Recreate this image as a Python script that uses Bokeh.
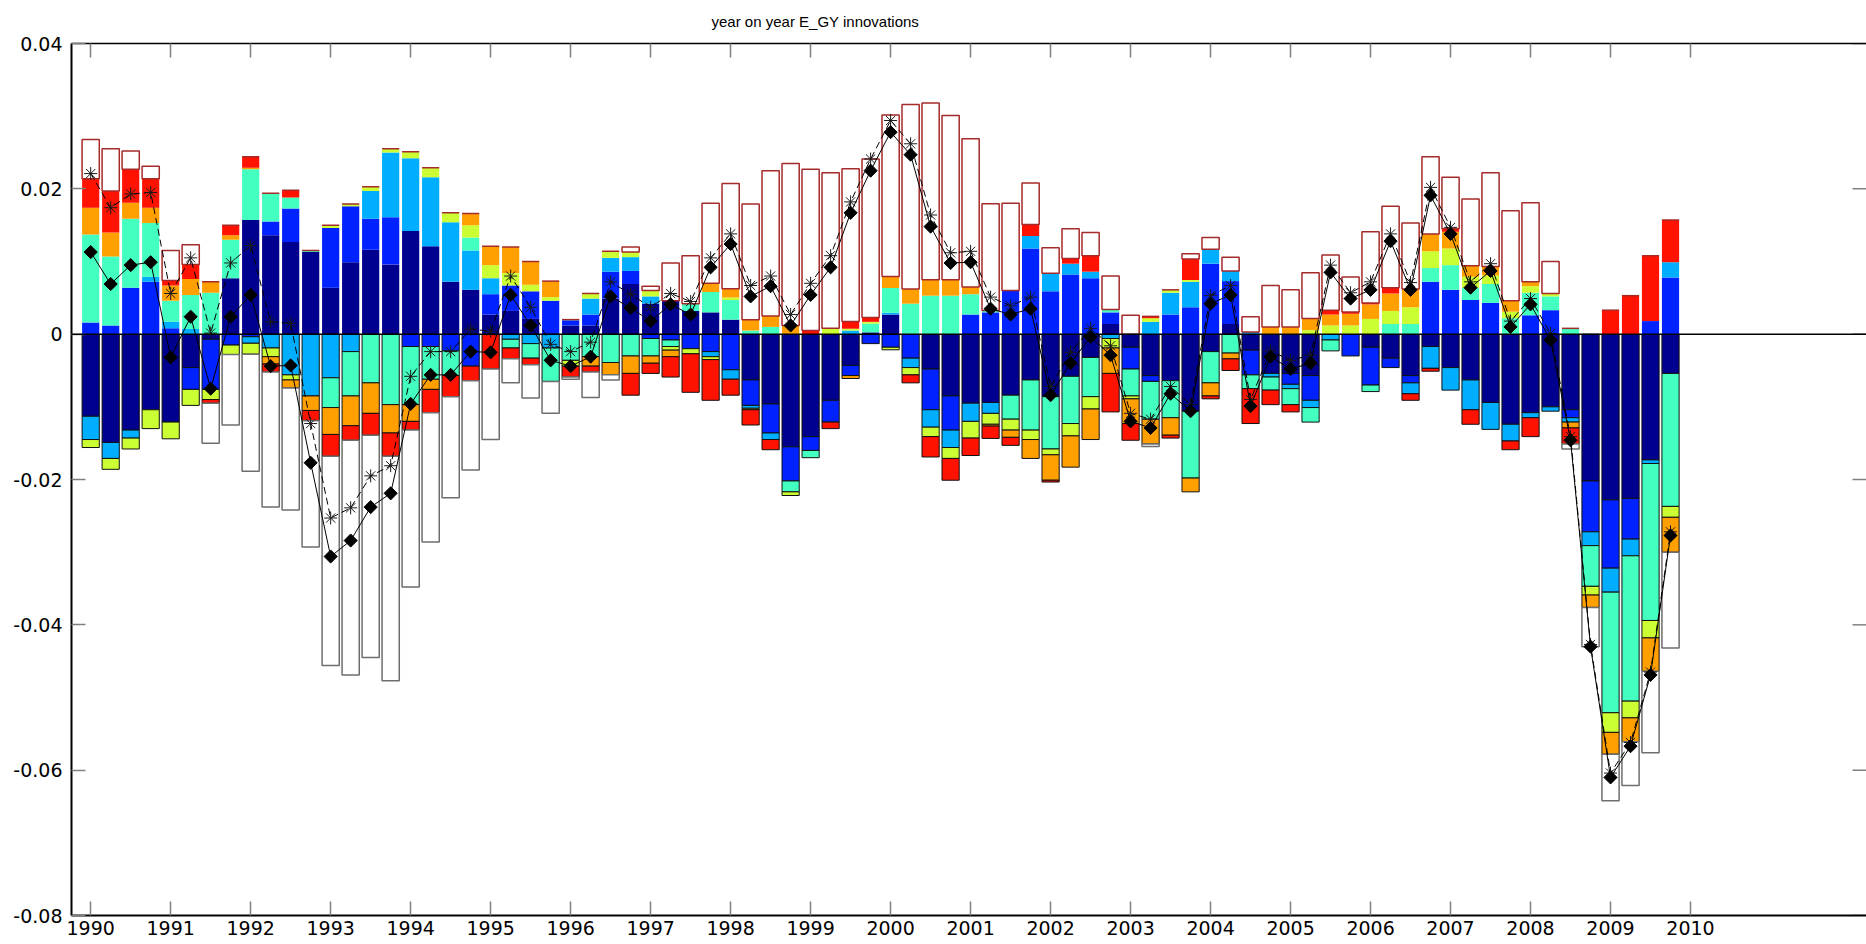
import numpy as np
from bokeh.plotting import figure
from bokeh.models import (Range1d, FixedTicker, CustomJSTickFormatter, LinearAxis,
                          Span, ColumnDataSource)
from bokeh.embed import file_html
from bokeh.resources import INLINE

# ---------------- data (contributions, in units of 1e-3) ----------------
UNIT = 1e-3
first_year = 1990
quarters = [f"{y}Q{q}" for y in range(1990, 2010) for q in range(1, 5)]
x_tick_years = list(range(1990, 2011))
y_ticks = [-0.08, -0.06, -0.04, -0.02, 0.0, 0.02, 0.04]

shock_navy = [-11.3, -14.9, -13.2, -10.4, -12.1, -4.6, -0.7, 7.7, 15.7, 13.6,
              12.7, 11.3, 6.4, 9.9, 11.6, 9.6, 14.2, 12.1, 7.2, 6.1,
              2.7, 3.2, 2.1, 0, 1.2, 1.2, 4.9, 6.9, 4.2, 4.6,
              3.2, 3.0, 2.0, -6.3, -9.6, -15.5, -14.1, -9.1, -4.3, 0.25,
              2.7, 0, -4.8, -8.5, -9.5, -9.4, -8.4, -6.3, -8.6, -5.8,
              -3.2, 1.4, -1.8, -5.7, -6.4, -10.6, -2.4, 1.4, -2.2, -5.4,
              -5.4, -5.7, 0, 0, -1.8, -3.3, -5.7, -1.7, -4.6, -6.3,
              -9.4, -12.4, -10.8, -10.0, -10.4, -20.2, -22.8, -22.6, -17.3, -5.4]

shock_blue = [1.6, 1.2, 6.4, 7.2, 0.8, -3.0, -6.9, -1.5, -0.35, 1.9,
              4.6, 0, 8.2, 7.7, 4.3, 6.5, -1.7, -1.7, -2.3, -4.4,
              2.8, 3.5, 3.8, 4.6, 0.7, 1.5, 3.7, 1.8, -0.6, -0.8,
              -2.0, -2.4, -4.9, -3.5, -4.0, -4.7, -1.9, -3.0, -1.4, -1.3,
              -1.8, -3.3, -5.6, -4.7, 2.7, 3.0, 6.0, 11.8, 5.9, 8.2,
              7.7, 1.6, -3.0, -0.8, 2.7, 3.7, 9.7, 5.9, -3.4, 0,
              -1.5, -3.4, 0, -3.0, -5.2, -1.3, -1.0, 7.2, 6.1, 4.7,
              4.3, 0, 2.6, 3.3, -1.1, -7.0, -9.4, -5.6, 1.8, 7.8]

shock_lightblue = [-3.2, -2.2, -1.1, 0.7, 0.9, 0.7, 0, 0, -0.9, -1.9,
                   -5.6, -8.5, -6.0, -2.4, 3.8, 8.9, 10.0, 9.5, 8.2, 5.4,
                   2.2, -0.7, -1.3, -1.9, 0.1, 2.2, 1.9, 1.9, 1.0, 0,
                   0, -0.7, -1.3, -0.4, -0.9, 0, 0, 0, 0.5, 0,
                   0.25, -1.3, -2.4, -2.4, -2.5, -1.5, 0, 1.7, 2.5, 1.5,
                   0.9, -0.6, 0, 1.7, 3.0, 3.5, 2.0, 1.4, 0.3, -0.5,
                   -0.6, -1.0, -0.8, 0, 0, 0, -1.5, -3.0, -3.1, -4.1,
                   -3.7, -2.3, -0.7, -0.6, -0.6, -1.9, -3.3, -2.3, -0.5, 2.1]

shock_aqua = [12.1, 9.5, 9.5, 7.4, 2.9, 4.7, 5.7, 5.3, 7.0, 3.9,
              1.5, 0.2, -4.1, -6.1, -6.7, -9.7, -8.0, -4.5, -3.4, 1.8,
              0, -1.2, -2.0, -4.6, -3.6, -3.1, -3.9, -3.0, -2.4, -0.9,
              1.0, 2.8, 2.7, 0.5, 1.0, -1.5, -1.0, 0, 0, 1.2,
              3.4, 4.2, 5.3, 5.3, 2.8, 0.25, -3.3, -6.9, -7.2, -6.5,
              -5.4, 0.4, -3.7, -5.2, -5.1, -9.2, -4.3, -2.6, -1.9, -1.8,
              -2.2, -2.0, -1.5, 0, -0.9, 1.4, 1.4, 1.9, 3.4, 1.7,
              2.6, 2.2, 3.1, 1.9, 0.8, -5.6, -16.6, -20.0, -21.6, -18.3]

shock_yellowgreen = [-1.1, -1.5, -1.5, -2.6, -2.3, -2.2, -1.4, -1.3, -1.5, -1.2,
                     -0.7, 0, 0.4, 0.3, 0.6, 0.5, 0.9, 1.3, 1.3, 1.7,
                     1.8, 1.7, 0.9, 0.5, -0.8, 0.7, 0.9, 0.7, 0.8, -0.5,
                     -0.7, -0.4, 0.35, -0.2, 0, -0.5, 0, 0.8, 0.25, 0.25,
                     -0.35, -1.0, -1.3, -1.5, -2.3, -1.5, -1.5, -1.3, -0.8, -1.7,
                     -1.7, -1.3, -0.4, 0.5, 0.4, 0.25, 0, 0, 0, 0,
                     0, 0.55, 1.2, 1.2, 2.1, 1.8, 2.3, 2.3, 2.3, 1.5,
                     1.2, 0.9, 0.9, 0.4, 0, -1.2, -2.7, -2.3, -2.4, -1.5]

shock_orange = [3.7, 3.3, 2.2, 2.1, 2.1, 2.2, 1.5, 0.6, 0.2, -1.0,
                -1.1, -2.0, -3.7, -4.1, -4.2, -3.9, -2.3, -1.4, 0, 1.6,
                2.6, 3.6, 3.2, 2.2, 0, -1.3, -1.7, -2.4, -1.0, -0.9,
                0, 1.2, 1.2, 1.5, 1.5, 1.2, 0, 0, -0.4, 0,
                1.6, 2.0, 2.2, 2.2, 1.0, -0.25, -1.0, -2.6, -3.5, -4.3,
                -4.2, -3.5, -3.4, -3.4, -2.4, -1.9, -1.8, -0.8, 0, 1.0,
                1.0, 1.6, 1.5, 1.6, 2.0, 2.4, 2.5, 2.4, 2.3, 1.5,
                1.2, 1.5, 0.6, 0, -0.8, -1.7, -3.0, -3.3, -4.6, -4.8]

shock_red = [4.0, 5.7, 4.6, 4.0, 0.7, 2.0, -0.5, 1.4, 1.5, -1.1,
             1.0, -1.4, -3.0, -2.0, -3.0, -3.2, -1.2, -3.2, -2.9, -2.0,
             -4.8, -1.5, -0.9, 0, -1.5, -0.8, 0, -3.0, -1.4, -2.8,
             -5.3, -5.6, -2.2, -2.1, -1.4, 0, 0.5, -0.9, 1.0, 0.6,
             0, -1.1, -2.8, -3.0, -2.4, -1.7, -1.1, 1.6, -0.25, 0.7,
             2.2, -5.3, -2.3, 0.25, -0.4, 2.9, -0.4, -1.6, -4.8, -2.0,
             -1.0, 0, 0.6, 0.25, 0.2, 0.8, -0.9, -0.4, 0.4, -2.0,
             0, -1.2, -2.6, 0, -2.2, 0, 3.3, 5.3, 9.0, 5.8]

initial_values = [5.4, 5.8, 2.5, 1.7, 4.1, 2.7, -5.5, -9.7, -16.1, -18.6,
                  -16.8, -17.4, -28.8, -32.3, -30.6, -30.9, -21.6, -17.8, -13.9, -12.3,
                  -9.7, -3.3, -4.6, -4.4, -0.3, -3.5, -0.7, 0.7, 0.6, 5.2,
                  6.6, 11.0, 14.5, 15.9, 20.0, 22.3, 22.2, 21.4, 21.0, 21.8,
                  22.2, 25.4, 24.3, 22.6, 20.4, 14.7, 12.0, 5.7, 3.5, 4.1,
                  3.2, 4.6, 2.6, -0.35, 0, 0.7, 1.6, 1.9, 2.1, 5.7,
                  5.1, 6.3, 7.6, 4.8, 9.8, 11.2, 9.1, 10.6, 7.1, 9.2,
                  12.9, 12.4, 10.9, 4.4, -0.7, -5.4, -6.4, -6.0, -11.2, -13.2]

series_diamond = [11.3, 6.9, 9.5, 9.9, -3.2, 2.4, -7.5, 2.4, 5.4, -4.4,
                  -4.3, -17.7, -30.6, -28.4, -23.8, -21.9, -9.6, -5.6, -5.6, -2.4,
                  -2.5, 5.4, 1.2, -3.6, -4.4, -3.1, 5.2, 3.6, 1.8, 4.1,
                  2.7, 9.2, 12.4, 5.2, 6.6, 1.2, 5.4, 9.2, 16.7, 22.5,
                  27.8, 24.7, 14.8, 9.8, 9.9, 3.5, 2.7, 3.5, -8.4, -4.0,
                  -0.35, -2.9, -12.0, -12.9, -8.2, -10.6, 4.2, 5.4, -9.9, -3.1,
                  -4.8, -4.0, 8.5, 4.9, 6.1, 12.8, 6.1, 19.1, 13.8, 6.4,
                  8.7, 1.0, 4.1, -0.8, -14.6, -43.0, -61.0, -56.7, -46.9, -27.7]

series_asterisk = [22.1, 17.4, 19.3, 19.5, 5.6, 10.5, 0.15, 9.8, 12.2, 1.7,
                   1.5, -12.3, -25.3, -23.9, -19.5, -18.1, -5.8, -2.4, -2.4, 0.7,
                   0.4, 8.0, 3.7, -1.4, -2.4, -1.1, 7.2, 5.5, 3.7, 5.6,
                   4.5, 10.5, 13.8, 6.7, 8.0, 2.7, 7.0, 10.8, 18.2, 24.1,
                   29.4, 26.2, 16.4, 11.2, 11.4, 5.1, 3.9, 5.1, -7.2, -2.5,
                   0.8, -1.6, -10.9, -11.7, -7.2, -9.7, 5.3, 6.7, -9.0, -2.3,
                   -3.6, -2.9, 9.5, 5.7, 7.2, 13.8, 7.1, 20.2, 14.7, 7.2,
                   9.7, 1.8, 4.9, 0.1, -14.1, -42.7, -60.4, -56.2, -46.5, -27.2]

title_text = "year on year E_GY innovations"

# ---------------- styling ----------------
shock_colors = ["#00008F", "#0022FF", "#00AEFF", "#43FFC0", "#CCFF33", "#FFA000", "#FF1200"]
BAR_W = 0.215
X_LO, X_HI = 1989.76, 2012.2
FRAME_W = 1866 - 71
TICK_PX = 14

n = len(quarters)
xq = np.array([first_year + i / 4.0 for i in range(n)])

p = figure(width=1866, height=944, output_backend="svg", toolbar_location=None,
           x_range=Range1d(X_LO, X_HI), y_range=Range1d(-0.08, 0.04),
           min_border_left=71, min_border_right=0, min_border_top=43, min_border_bottom=29)
p.xgrid.visible = False
p.ygrid.visible = False
p.background_fill_color = "white"
p.border_fill_color = "white"
p.outline_line_color = None

# title (positioned to match the reference)
p.title.text = title_text
p.title.align = "left"
p.title.offset = 640
p.title.vertical_align = "top"
p.title.standoff = 24
p.title.text_font = "Liberation Sans"
p.title.text_font_size = "15px"
p.title.text_font_style = "normal"
p.title.text_color = "black"

pos_cum = np.zeros(n)
neg_cum = np.zeros(n)
components = [shock_navy, shock_blue, shock_lightblue, shock_aqua,
              shock_yellowgreen, shock_orange, shock_red]
for vals, col in zip(components, shock_colors):
    v = np.array(vals) * UNIT
    pm = v > 0
    nm = v < 0
    if pm.any():
        src = ColumnDataSource(dict(x=xq[pm], bottom=pos_cum[pm], top=pos_cum[pm] + v[pm]))
        p.vbar(x="x", width=BAR_W, bottom="bottom", top="top", source=src,
               fill_color=col, line_color=None)
    if nm.any():
        src = ColumnDataSource(dict(x=xq[nm], top=neg_cum[nm], bottom=neg_cum[nm] + v[nm]))
        p.vbar(x="x", width=BAR_W, bottom="bottom", top="top", source=src,
               fill_color=col, line_color="#111111", line_width=1)
    pos_cum = pos_cum + np.where(pm, v, 0)
    neg_cum = neg_cum + np.where(nm, v, 0)

# initial-values bars (hollow)
w = np.array(initial_values) * UNIT
pm = w > 0
nm = w < 0
src = ColumnDataSource(dict(x=xq[pm], bottom=pos_cum[pm], top=pos_cum[pm] + w[pm]))
p.vbar(x="x", width=BAR_W, bottom="bottom", top="top", source=src,
       fill_color="white", line_color="#A52A2A", line_width=1.5)
src = ColumnDataSource(dict(x=xq[nm], top=neg_cum[nm], bottom=neg_cum[nm] + w[nm]))
p.vbar(x="x", width=BAR_W, bottom="bottom", top="top", source=src,
       fill_color="white", line_color="#6E6E6E", line_width=1.5)
# dark-red cap on positive stacks without a positive initial-values part
cap = (~pm) & (pos_cum > 0)
src = ColumnDataSource(dict(x0=xq[cap] - BAR_W / 2, x1=xq[cap] + BAR_W / 2, y=pos_cum[cap]))
p.segment(x0="x0", y0="y", x1="x1", y1="y", source=src, line_color="#A52A2A", line_width=1.5)

# lines
ya = np.array(series_asterisk) * UNIT
yd = np.array(series_diamond) * UNIT
p.line(xq, ya, line_color="black", line_width=1, line_dash="7 4")
p.scatter(xq, ya, marker="asterisk", size=13, line_color="#1a1a1a", line_width=1)
p.line(xq, yd, line_color="black", line_width=1)
p.scatter(xq, yd, marker="square", angle=np.pi / 4, size=9.3,
          fill_color="black", line_color="black")

p.add_layout(Span(location=0, dimension="width", line_color="black", line_width=1.5))

# right-edge inside ticks (the axes box continues to the window edge)
tick_len = TICK_PX * (X_HI - X_LO) / FRAME_W
rt = ColumnDataSource(dict(x0=[X_HI - tick_len] * len(y_ticks), x1=[X_HI] * len(y_ticks), y=y_ticks))
p.segment(x0="x0", y0="y", x1="x1", y1="y", source=rt, line_color="#808080", line_width=1.5)

# axes
xt = FixedTicker(ticks=x_tick_years)
yt = FixedTicker(ticks=y_ticks)
xfmt = CustomJSTickFormatter(code="return tick.toFixed(0)")
yfmt = CustomJSTickFormatter(code="return Math.abs(tick) < 1e-12 ? '0' : tick.toFixed(2)")


def style(ax, labels=True):
    ax.major_tick_in = TICK_PX
    ax.major_tick_out = 0
    ax.minor_tick_in = 0
    ax.minor_tick_out = 0
    ax.major_tick_line_color = "#808080"
    ax.major_tick_line_width = 1.5
    ax.axis_line_color = "black"
    ax.axis_line_width = 2
    if labels:
        ax.major_label_text_font = "DejaVu Sans"
        ax.major_label_text_font_size = "19px"
        ax.major_label_text_color = "black"
    else:
        ax.major_label_text_font_size = "0px"
        ax.major_label_text_color = None
        ax.major_label_standoff = 0


p.xaxis[0].ticker = xt
p.xaxis[0].formatter = xfmt
style(p.xaxis[0])
p.xaxis[0].major_label_standoff = 5
p.yaxis[0].ticker = yt
p.yaxis[0].formatter = yfmt
style(p.yaxis[0])
p.yaxis[0].major_label_standoff = 9

top_ax = LinearAxis(ticker=xt, formatter=xfmt)
style(top_ax, labels=False)
top_ax.axis_line_width = 1.5
p.add_layout(top_ax, "above")

open("out.html", "w").write(file_html(p, INLINE))
